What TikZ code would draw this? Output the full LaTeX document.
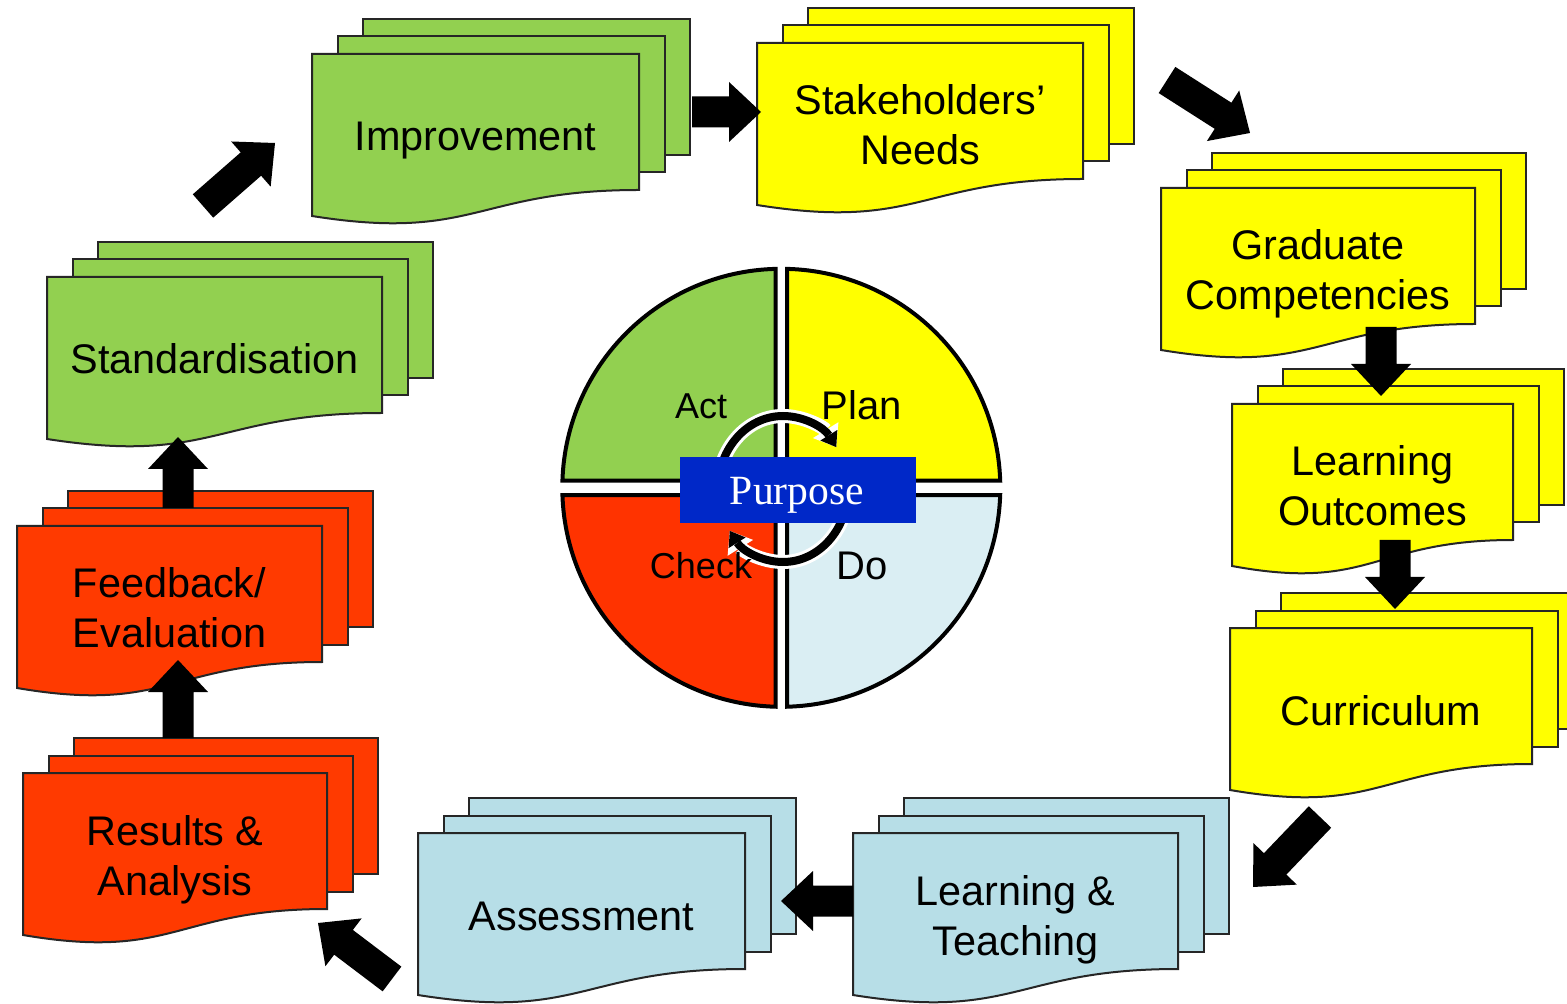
\documentclass[tikz,border=0pt]{standalone}
\usepackage{fontspec}
\setmainfont{Liberation Sans}
\newfontfamily\purposefont{Liberation Serif}
\usetikzlibrary{calc,arrows.meta}

\definecolor{cgreen}{RGB}{146,208,80}
\definecolor{cyellow}{RGB}{255,255,0}
\definecolor{cred}{RGB}{255,58,0}
\definecolor{cqred}{RGB}{255,51,0}
\definecolor{cblue}{RGB}{183,222,231}
\definecolor{cdo}{RGB}{218,238,243}
\definecolor{cpurpose}{RGB}{0,40,200}

\tikzset{
  sheet/.style={draw=black!85, line width=1pt, line join=miter},
  doctext/.style={font=\fontsize{20.7}{25}\selectfont, align=center, inner sep=0pt},
  quad/.style={draw=black, line width=2pt, line join=miter},
  qlabel/.style={inner sep=0pt, anchor=base},
}

% multi-document shape: #1 name, #2 left, #3 top, #4 width, #5 colour
\newcommand\mdoc[5]{%
  \pgfmathsetmacro\mdL{#2}%
  \pgfmathsetmacro\mdT{#3}%
  \pgfmathsetmacro\mdR{#2+#4}%
  \pgfmathsetmacro\mdM{#2+0.5*#4}%
  \filldraw[sheet,fill=#5] (\mdL+51,\mdT-35) rectangle (\mdR+51,\mdT+101);
  \filldraw[sheet,fill=#5] (\mdL+25.5,\mdT-17.5) rectangle (\mdR+25.5,\mdT+118.5);
  \filldraw[sheet,fill=#5] (\mdL,\mdT) -- (\mdR,\mdT) -- (\mdR,\mdT+136)
     .. controls (\mdM,\mdT+136) and (\mdM,\mdT+188) .. (\mdL,\mdT+162) -- cycle;
  \coordinate (#1) at (\mdM,\mdT+82);
}

% block arrow between two named coordinates: #1 tail, #2 tip
\newcommand\barrow[2]{%
  \coordinate (ba-base) at ($(#2)!16pt!(#1)$);
  \fill[black] ($(#1)!7.75pt!90:(#2)$) -- ($(ba-base)!7.75pt!90:(#2)$)
    -- ($(ba-base)!15pt!90:(#2)$) -- (#2) -- ($(ba-base)!15pt!-90:(#2)$)
    -- ($(ba-base)!7.75pt!-90:(#2)$) -- ($(#1)!7.75pt!-90:(#2)$) -- cycle;
}

\begin{document}
\begin{tikzpicture}[x=0.5pt,y=-0.5pt]
\useasboundingbox (0,0) rectangle (1567,1004);
\fill[white] (0,0) rectangle (1567,1004);

% ---------- documents ----------
\mdoc{c-impr}{312}{54}{327}{cgreen}
\mdoc{c-stake}{757}{43}{326}{cyellow}
\mdoc{c-grad}{1161}{188}{314}{cyellow}
\mdoc{c-lo}{1232}{404}{281}{cyellow}
\mdoc{c-curr}{1230}{628}{302}{cyellow}
\mdoc{c-lt}{853}{833}{325}{cblue}
\mdoc{c-assess}{418}{833}{327}{cblue}
\mdoc{c-res}{23}{773}{304}{cred}
\mdoc{c-fb}{17}{526}{305}{cred}
\mdoc{c-stand}{47}{277}{335}{cgreen}

% ---------- texts ----------
\node[doctext,anchor=base] (t-impr) at ($(c-impr)+(0,15)$) {Improvement};
\node[doctext] (t-stake) at (c-stake) {Stakeholders’\\Needs};
\node[doctext] (t-grad) at ($(c-grad)+(0,4.3)$) {Graduate\\Competencies};
\node[doctext] (t-lo) at (c-lo) {Learning\\Outcomes};
\node[doctext,anchor=base] (t-curr) at ($(c-curr)+(0,15)$) {Curriculum};
\node[doctext] (t-lt) at ($(c-lt)+(0,4.3)$) {Learning \&\\Teaching};
\node[doctext,anchor=base] (t-assess) at ($(c-assess)+(0,15)$) {Assessment};
\node[doctext] (t-res) at ($(c-res)+(0,4.3)$) {Results \&\\Analysis};
\node[doctext] (t-fb) at (c-fb) {Feedback/\\Evaluation};
\node[doctext,anchor=base] (t-stand) at ($(c-stand)+(0,15)$) {Standardisation};

% ---------- block arrows ----------
\coordinate (a1t) at (203,206);  \coordinate (a1h) at (275,143);
\coordinate (a2t) at (692,112);  \coordinate (a2h) at (761,112);
\coordinate (a3t) at (1167,80);  \coordinate (a3h) at (1250,133);
\coordinate (a4t) at (1381,327); \coordinate (a4h) at (1381,396);
\coordinate (a5t) at (1395,540); \coordinate (a5h) at (1395,609);
\coordinate (a6t) at (1320,817); \coordinate (a6h) at (1253,887);
\coordinate (a7t) at (853,901);  \coordinate (a7h) at (781,901);
\coordinate (a8t) at (392,979);  \coordinate (a8h) at (318,923);
\coordinate (a9t) at (178,738);  \coordinate (a9h) at (178,660);
\coordinate (a10t) at (178,508); \coordinate (a10h) at (178,437);
\barrow{a1t}{a1h}
\barrow{a2t}{a2h}
\barrow{a3t}{a3h}
\barrow{a4t}{a4h}
\barrow{a5t}{a5h}
\barrow{a6t}{a6h}
\barrow{a7t}{a7h}
\barrow{a8t}{a8h}
\barrow{a9t}{a9h}
\barrow{a10t}{a10h}

% ---------- PDCA circle ----------
\coordinate (cc) at (781.3,487.8);
\filldraw[quad,fill=cgreen] ($(cc)+(-5.75,-7.25)$) -- ($(cc)+(268.5:219)$)
   arc[start angle=268.5, end angle=181.9, radius=219] -- cycle;
\filldraw[quad,fill=cyellow] ($(cc)+(5.75,-7.25)$) -- ($(cc)+(271.5:219)$)
   arc[start angle=271.5, end angle=358.1, radius=219] -- cycle;
\filldraw[quad,fill=cdo] ($(cc)+(5.75,7.25)$) -- ($(cc)+(1.9:219)$)
   arc[start angle=1.9, end angle=88.5, radius=219] -- cycle;
\filldraw[quad,fill=cqred] ($(cc)+(-5.75,7.25)$) -- ($(cc)+(91.5:219)$)
   arc[start angle=91.5, end angle=178.1, radius=219] -- cycle;

% circular arrows
\coordinate (rc) at (783,489);
\draw[white, line width=7pt, -{Triangle[width=15pt,length=10pt,line width=0pt]}]
   ($(rc)+(180:65 and 73)$) arc[start angle=180, end angle=325, x radius=65, y radius=73];
\draw[black, line width=4pt, -{Triangle[width=10pt,length=7pt,line width=0pt]}]
   ($(rc)+(180:65 and 73)$) arc[start angle=180, end angle=325, x radius=65, y radius=73];
\draw[white, line width=7pt, -{Triangle[width=15pt,length=10pt,line width=0pt]}]
   ($(rc)+(0:65 and 73)$) arc[start angle=0, end angle=145, x radius=65, y radius=73];
\draw[black, line width=4pt, -{Triangle[width=10pt,length=7pt,line width=0pt]}]
   ($(rc)+(0:65 and 73)$) arc[start angle=0, end angle=145, x radius=65, y radius=73];

% labels
\node[qlabel, font=\fontsize{18}{20}\selectfont] (act) at (701,419) {Act};
\node[qlabel, font=\fontsize{20}{22}\selectfont] (plan) at (862,420) {Plan};
\node[qlabel, font=\fontsize{18}{20}\selectfont] (check) at (701,579) {Check};
\node[qlabel, font=\fontsize{20}{22}\selectfont] (do) at (862,580) {Do};

% purpose box
\node[fill=cpurpose, minimum width=118pt, minimum height=33pt, inner sep=0pt] (purposebox) at (798,490) {};
\node[qlabel, text=white, font=\purposefont\fontsize{20.8}{22}\selectfont] (purpose) at (797,505) {Purpose};

\end{tikzpicture}
\end{document}
